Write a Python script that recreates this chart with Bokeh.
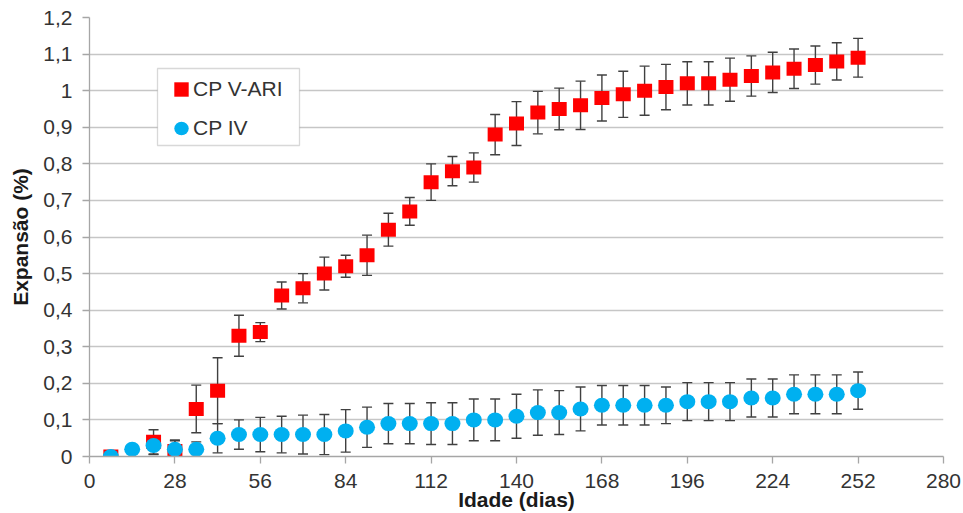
from bokeh.plotting import figure
from bokeh.models import (ColumnDataSource, Range1d, FixedTicker, Whisker, TeeHead,
                          Legend, LegendItem, BoxAnnotation, CustomJSTickFormatter)
from bokeh.embed import file_html
from bokeh.resources import INLINE

# ---------------- data ----------------
red_days = [7, 21, 28, 35, 42, 49, 56, 63, 70, 77, 84, 91, 98, 105, 112, 119, 126,
            133, 140, 147, 154, 161, 168, 175, 182, 189, 196, 203, 210, 217, 224, 231,
            238, 245, 252]
cpv_ari = [0.00, 0.04, 0.015, 0.13, 0.18, 0.33, 0.34, 0.44, 0.46, 0.50, 0.52,
           0.55, 0.62, 0.67, 0.75, 0.78, 0.79, 0.88, 0.91, 0.94, 0.95, 0.96, 0.98,
           0.99, 1.00, 1.01, 1.02, 1.02, 1.03, 1.04, 1.05, 1.06, 1.07, 1.08, 1.09]
cpv_ari_err = [0.005, 0.033, 0.028, 0.065, 0.09, 0.056, 0.026, 0.037, 0.04, 0.045,
               0.03, 0.055, 0.045, 0.038, 0.05, 0.04, 0.04, 0.055, 0.06, 0.058, 0.057,
               0.066, 0.063, 0.063, 0.067, 0.062, 0.059, 0.059, 0.059, 0.055, 0.055,
               0.054, 0.052, 0.051, 0.053]

blue_days = [7, 14, 21, 28, 35, 42, 49, 56, 63, 70, 77, 84, 91, 98, 105, 112, 119, 126,
             133, 140, 147, 154, 161, 168, 175, 182, 189, 196, 203, 210, 217, 224, 231,
             238, 245, 252]
cp_iv = [0.00, 0.02, 0.03, 0.02, 0.02, 0.05, 0.06, 0.06, 0.06, 0.06, 0.06, 0.07, 0.08,
         0.09, 0.09, 0.09, 0.09, 0.10, 0.10, 0.11, 0.12, 0.12, 0.13, 0.14, 0.14, 0.14,
         0.14, 0.15, 0.15, 0.15, 0.16, 0.16, 0.17, 0.17, 0.17, 0.18]
cp_iv_err = [0.003, 0.005, 0.025, 0.025, 0.02, 0.04, 0.04, 0.047, 0.05, 0.053, 0.055,
             0.058, 0.055, 0.055, 0.055, 0.057, 0.057, 0.057, 0.057, 0.06, 0.062, 0.06,
             0.06, 0.054, 0.054, 0.054, 0.05, 0.052, 0.052, 0.052, 0.052, 0.052, 0.053,
             0.053, 0.053, 0.051]

x_ticks = [0, 28, 56, 84, 112, 140, 168, 196, 224, 252, 280]
y_ticks = [0, 0.1, 0.2, 0.3, 0.4, 0.5, 0.6, 0.7, 0.8, 0.9, 1.0, 1.1, 1.2]

series_names = ["CP V-ARI", "CP IV"]
x_title = "Idade (dias)"
y_title = "Expansão (%)"

# ---------------- styling ----------------
FONT = "Liberation Sans"
RED = "#ff0000"
BLUE = "#00b0f0"
ERR = "#404040"
GRID = "#c6c6c6"
AXIS = "#a6a6a6"
TXT = "#333333"

src_red = ColumnDataSource(dict(
    x=red_days, y=cpv_ari,
    lo=[v - e for v, e in zip(cpv_ari, cpv_ari_err)],
    hi=[v + e for v, e in zip(cpv_ari, cpv_ari_err)]))
src_blue = ColumnDataSource(dict(
    x=blue_days, y=cp_iv,
    lo=[v - e for v, e in zip(cp_iv, cp_iv_err)],
    hi=[v + e for v, e in zip(cp_iv, cp_iv_err)]))

p = figure(width=963, height=513, output_backend="svg", toolbar_location=None,
           x_range=Range1d(0, 280), y_range=Range1d(0, 1.2),
           min_border_left=89, min_border_right=20, min_border_top=17,
           min_border_bottom=57)
p.outline_line_color = None
p.background_fill_color = "white"
p.border_fill_color = "white"

# grid
p.xgrid.grid_line_color = None
p.ygrid.grid_line_color = GRID
p.ygrid.grid_line_width = 1.3

# axes
p.xaxis.ticker = FixedTicker(ticks=x_ticks)
p.yaxis.ticker = FixedTicker(ticks=y_ticks)
p.yaxis.formatter = CustomJSTickFormatter(
    code="var s = (Math.round(tick*10)/10).toString(); return s.replace('.', ',');")
for ax in (p.xaxis, p.yaxis):
    ax.axis_line_color = AXIS
    ax.axis_line_width = 1.3
    ax.major_tick_line_color = AXIS
    ax.major_tick_line_width = 1.3
    ax.major_tick_in = 0
    ax.major_tick_out = 7
    ax.minor_tick_line_color = None
    ax.major_label_text_font = FONT
    ax.major_label_text_font_size = "21px"
    ax.major_label_text_color = TXT
    ax.axis_label_text_font = FONT
    ax.axis_label_text_font_size = "21px"
    ax.axis_label_text_font_style = "bold"
    ax.axis_label_text_color = "#1a1a1a"
p.xaxis.axis_label = x_title
p.yaxis.axis_label = y_title
p.xaxis.major_label_standoff = 10
p.xaxis.axis_label_standoff = -3
p.yaxis.major_label_standoff = 10
p.yaxis.axis_label_standoff = 8

# error bars
for src in (src_red, src_blue):
    w = Whisker(source=src, base="x", lower="lo", upper="hi", dimension="height",
                line_color=ERR, line_width=1.4,
                upper_head=TeeHead(size=10, line_color=ERR, line_width=1.4),
                lower_head=TeeHead(size=10, line_color=ERR, line_width=1.4))
    p.add_layout(w)

# markers
r_red = p.rect("x", "y", width=15, height=14, width_units="screen",
               height_units="screen", source=src_red, fill_color=RED,
               line_color=None)
r_blue = p.ellipse("x", "y", width=16, height=15, width_units="screen",
                   height_units="screen", source=src_blue, fill_color=BLUE,
                   line_color=None)

# legend box (frame-relative screen units)
box = BoxAnnotation(left=68, right=210, top=388, bottom=311,
                    left_units="screen", right_units="screen",
                    top_units="screen", bottom_units="screen",
                    fill_color="white", fill_alpha=1.0,
                    line_color="#7f7f7f", line_width=1.3, level="annotation")
p.add_layout(box)

legend = Legend(items=[LegendItem(label=series_names[0], renderers=[r_red]),
                       LegendItem(label=series_names[1], renderers=[r_blue])],
                location=(83, 313), orientation="vertical",
                border_line_color=None, background_fill_alpha=0,
                padding=0, margin=0, spacing=9,
                glyph_width=18, glyph_height=18, label_height=30,
                label_standoff=3, label_text_font=FONT,
                label_text_font_size="21px", label_text_color=TXT)
p.add_layout(legend)

open("out.html", "w").write(file_html(p, INLINE))
